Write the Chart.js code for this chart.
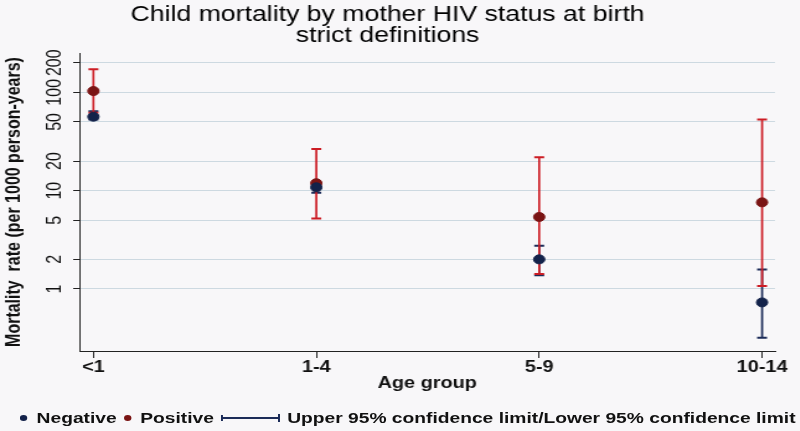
<!DOCTYPE html>
<html>
<head>
<meta charset="utf-8">
<script src="https://cdn.jsdelivr.net/npm/chart.js@4.4.1/dist/chart.umd.min.js"></script>
<style>
  html, body { margin: 0; padding: 0; background: #f8f7f9; overflow: hidden; }
  /* the original graph is a wide stretch of a narrower one, so draw at 645px and stretch */
  #wrap {
    position: relative; width: 645px; height: 431px;
    transform: scaleX(1.24); transform-origin: 0 0;
  }
  #legend {
    position: absolute; left: 15.5px; top: 409px;
    display: flex; align-items: center;
    font: bold 15.5px "Liberation Sans", Arial, sans-serif; color: #111;
    line-height: 18px; white-space: nowrap;
  }
  .dot { display: inline-block; width: 6px; height: 6px; border-radius: 50%; }
</style>
</head>
<body>
<div id="wrap">
  <canvas id="myChart"></canvas>
  <div id="legend">
    <span class="dot" style="background:#13224a; margin-right:8px"></span>
    <span>Negative</span>
    <span class="dot" style="background:#7a1414; margin-left:6px; margin-right:7px"></span>
    <span>Positive</span>
    <svg width="48" height="10" style="margin-left:5px; margin-right:6px">
      <line x1="1" y1="2" x2="1" y2="8" stroke="#1b2b58" stroke-width="1.6"/>
      <line x1="1" y1="5" x2="47" y2="5" stroke="#1b2b58" stroke-width="2"/>
      <line x1="47" y1="1" x2="47" y2="9" stroke="#1b2b58" stroke-width="1.6"/>
    </svg>
    <span>Upper 95% confidence limit/Lower 95% confidence limit</span>
  </div>
</div>
<script>
// Age groups on the x axis
const ageGroups = ["<1", "1-4", "5-9", "10-14"];

// Mortality rate per 1000 person-years, mother HIV negative
const negRate = [56.5, 10.8, 2.0, 0.73];
const negLower = [53, 9.5, 1.38, 0.32];
const negUpper = [64, 12, 2.75, 1.58];

// Mortality rate per 1000 person-years, mother HIV positive
const posRate = [103, 11.9, 5.4, 7.6];
const posLower = [62, 5.2, 1.42, 1.07];
const posUpper = [172, 26.5, 21.8, 53];

// Tick values on the log y axis
const yTicks = [1, 2, 5, 10, 20, 50, 100, 200];

const negColor = "#13224a";
const posColor = "#7a1414";
const negBarColor = "#1b2b58";
const posBarColor = "#cc1c24";

const toPoints = (values) => values.map((v, i) => ({ x: i, y: v }));

// draws the confidence limits as vertical lines with caps
const errorBars = {
  id: "errorBars",
  beforeDatasetsDraw(chart) {
    const { ctx, scales } = chart;
    const x = scales.x;
    const y = scales.y;
    const draw = (lower, upper, color) => {
      ctx.save();
      ctx.strokeStyle = color;
      lower.forEach((lo, i) => {
        const px = x.getPixelForValue(i);
        const yLo = y.getPixelForValue(lo);
        const yHi = y.getPixelForValue(upper[i]);
        ctx.lineWidth = 1.7;
        ctx.beginPath();
        ctx.moveTo(px, yLo);
        ctx.lineTo(px, yHi);
        ctx.stroke();
        ctx.lineWidth = 2;
        ctx.beginPath();
        ctx.moveTo(px - 4, yLo);
        ctx.lineTo(px + 4, yLo);
        ctx.moveTo(px - 4, yHi);
        ctx.lineTo(px + 4, yHi);
        ctx.stroke();
      });
      ctx.restore();
    };
    draw(negLower, negUpper, negBarColor);
    draw(posLower, posUpper, posBarColor);
  },
};

new Chart(document.querySelector("#myChart"), {
  type: "scatter",
  data: {
    datasets: [
      {
        label: "Negative",
        data: toPoints(negRate),
        backgroundColor: negColor,
        borderColor: negColor,
        pointRadius: 4.5,
      },
      {
        label: "Positive",
        data: toPoints(posRate),
        backgroundColor: posColor,
        borderColor: posColor,
        pointRadius: 4.5,
      },
    ],
  },
  options: {
    responsive: true,
    maintainAspectRatio: false,
    animation: false,
    layout: { padding: { top: 4, left: 0, right: 20, bottom: 30 } },
    scales: {
      x: {
        type: "linear",
        min: -0.063,
        max: 3.058,
        afterBuildTicks: (scale) => {
          scale.ticks = ageGroups.map((_, i) => ({ value: i }));
        },
        afterFit: (scale) => {
          scale.height = 50;
        },
        ticks: {
          callback: (value) => ageGroups[value],
          font: { family: "Liberation Sans", size: 16, weight: "bold" },
          color: "#111",
          padding: 0,
          maxRotation: 0,
          autoSkip: false,
        },
        grid: { drawOnChartArea: false, tickLength: 7, tickColor: "#222" },
        border: { color: "#222", width: 1 },
        title: {
          display: true,
          text: "Age group",
          font: { family: "Liberation Sans", size: 16, weight: "bold" },
          color: "#111",
          padding: { top: 0, bottom: 8 },
        },
      },
      y: {
        type: "logarithmic",
        min: 0.234,
        max: 251,
        afterBuildTicks: (scale) => {
          scale.ticks = yTicks.map((v) => ({ value: v }));
        },
        afterFit: (scale) => {
          scale.width = 64;
        },
        ticks: {
          callback: (value) => String(value),
          font: { family: "Liberation Sans", size: 16 },
          color: "#111",
          minRotation: 90,
          maxRotation: 90,
          crossAlign: "center",
          padding: 1,
          autoSkip: false,
        },
        grid: { color: "#cdd9e1", tickLength: 5, tickColor: "#222" },
        border: { color: "#222", width: 1 },
        title: {
          display: true,
          text: "Mortality  rate (per 1000 person-years)",
          font: { family: "Liberation Sans", size: 16, weight: "bold" },
          color: "#111",
          padding: { top: 2, bottom: 0 },
        },
      },
    },
    plugins: {
      legend: { display: false },
      tooltip: { enabled: false },
      title: {
        display: true,
        text: ["Child mortality by mother HIV status at birth", "strict definitions"],
        font: { family: "Liberation Sans", size: 21.5, weight: "normal", lineHeight: 1 },
        color: "#000",
        padding: { top: 0, bottom: 6 },
      },
    },
  },
  plugins: [errorBars],
});
</script>
</body>
</html>
